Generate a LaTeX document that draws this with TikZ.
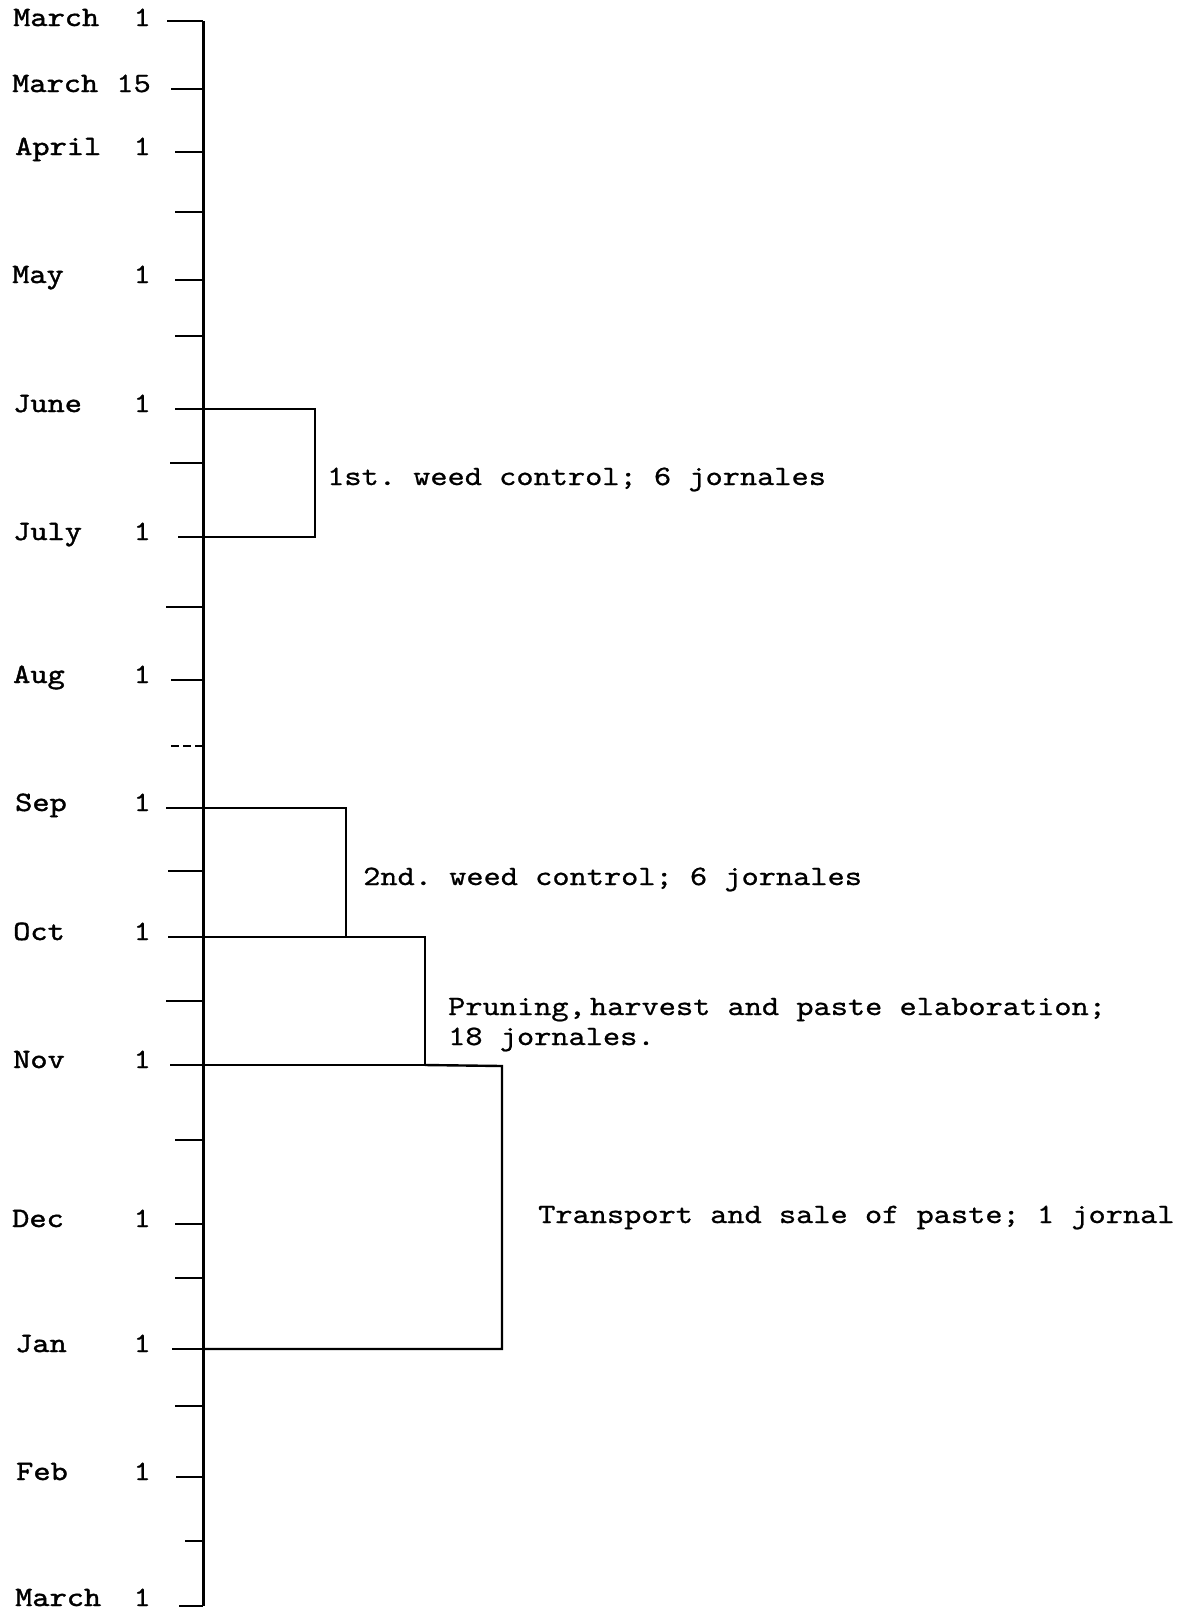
\documentclass[tikz,border=0pt]{standalone}
\usepackage{fontspec}
\newfontfamily\twbold{lmmono10-regular.otf}[FakeStretch=1.17,FakeBold=1.4]
\newfontfamily\twlight{lmmono10-regular.otf}[FakeStretch=1.17,FakeBold=0.8]
\tikzset{
  axisline/.style={line width=3pt},
  tickline/.style={line width=2.6pt},
  bracketline/.style={line width=2.4pt, line join=miter},
  month/.style={anchor=base west, inner sep=0pt, font=\twbold\fontsize{28}{30}\selectfont},
  daynum/.style={anchor=base east, inner sep=0pt, font=\twlight\fontsize{28}{30}\selectfont},
  note/.style={anchor=base west, inner sep=0pt, font=\twlight\fontsize{28}{30}\selectfont\frenchspacing},
}
\begin{document}
\frenchspacing
\begin{tikzpicture}[x=1pt,y=-1pt]
\useasboundingbox (0,0) rectangle (1187,1610);
% axis points and tick ends
\foreach \n/\y/\xl in {m1/21/167, m15/89/171, apr/152/175, q1/212/175, may/280/175,
  q2/336/175, jun/409/175, q3/463/170, jul/537/178, q4/607/166, aug/680/171,
  q5/746/171, sep/808/166, q6/871/168, oct/937/168, q7/1001/166, nov/1065/170,
  q8/1140/175, dec/1224/175, q9/1278/175, jan/1349/172, q10/1406/175,
  feb/1477/176, q11/1541/185, mar/1606/179}{
  \coordinate (\n) at (203,\y);
  \coordinate (\n-l) at (\xl,\y);
}
\draw[axisline] (m1) -- (mar);
\foreach \n in {m1, m15, apr, q1, may, q2, jun, q3, jul, q4, aug, sep, q6, oct,
  q7, nov, q8, dec, q9, jan, q10, feb, q11, mar}{
  \draw[tickline] (\n-l) -- (\n);
}
\draw[tickline, dash pattern=on 8pt off 4pt] (q5-l) -- (q5);
% month labels
\foreach \n/\t/\x/\y in {m1/March/13/26, m15/March/12/92, apr/April/15/155,
  may/May/12/283, jun/June/13/412, jul/July/13/540, aug/Aug/13/683,
  sep/Sep/15/811, oct/Oct/13/940, nov/Nov/13/1068, dec/Dec/12/1227,
  jan/Jan/15/1352, feb/Feb/16/1480, mar/March/15/1606}{
  \node[month] (lab-\n) at (\x,\y) {\t};
}
\foreach \n/\y in {m1/26, apr/155, may/283, jun/412, jul/540, aug/683,
  sep/811, oct/940, nov/1068, dec/1227, jan/1352, feb/1480, mar/1606}{
  \node[daynum] (num-\n) at (151,\y) {1};
}
\node[daynum] (num-m15) at (151,92) {15};
% brackets
\coordinate (b1a) at (315,409); \coordinate (b1b) at (315,537);
\draw[bracketline] (jun) -- (b1a) -- (b1b) -- (jul);
\coordinate (b2a) at (346,808); \coordinate (b2b) at (346,937);
\draw[bracketline] (sep) -- (b2a) -- (b2b);
\coordinate (b3a) at (425,937); \coordinate (b3b) at (425,1065);
\draw[bracketline] (oct) -- (b3a) -- (b3b) -- (nov);
\coordinate (b4a) at (502,1066); \coordinate (b4b) at (502,1349);
\draw[bracketline] (b3b) -- (b4a) -- (b4b) -- (jan);
% notes
\node[note] (n1) at (327,485) {1st. weed control; 6 jornales};
\node[note] (n2) at (363,885) {2nd. weed control; 6 jornales};
\node[note] (n3a) at (448,1015) {Pruning,\kern-13pt\ harvest and paste elaboration;};
\node[note] (n3b) at (448,1045) {18 jornales.};
\node[note] (n4) at (538,1223) {Transport and sale of paste; 1 jornal};
\end{tikzpicture}
\end{document}
